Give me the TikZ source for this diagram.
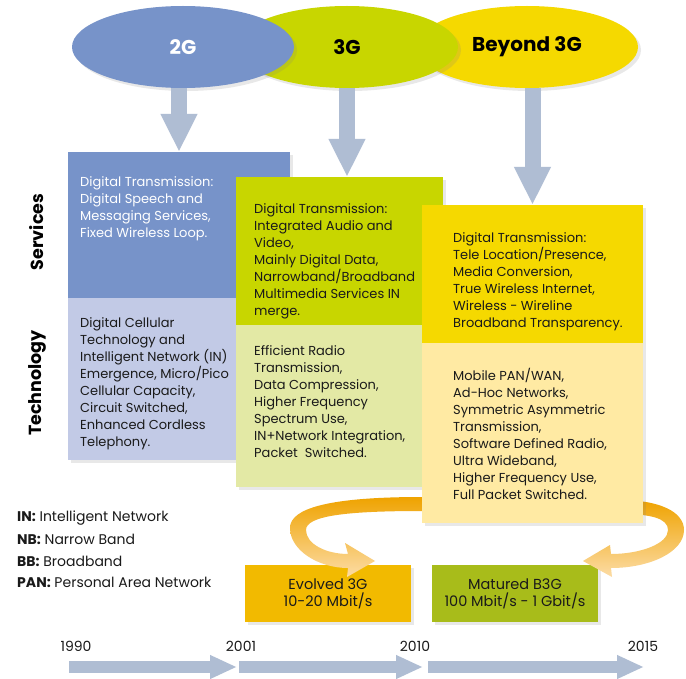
\documentclass[tikz,border=0pt]{standalone}
\usepackage{fontspec}
\setmainfont{Poppins}
\usetikzlibrary{shapes.geometric,arrows.meta,shadows,positioning}
\definecolor{blueA}{HTML}{7793C9}
\definecolor{blueB}{HTML}{C2CAE6}
\definecolor{greenA}{HTML}{C8D600}
\definecolor{greenB}{HTML}{E3E9A5}
\definecolor{yellowA}{HTML}{F5D900}
\definecolor{yellowB}{HTML}{FFEAA3}
\definecolor{greyarrow}{HTML}{AFBDD3}
\definecolor{evolved}{HTML}{F2BA00}
\definecolor{matured}{HTML}{A8BC1A}
\definecolor{ribbonD}{HTML}{EFA300}
\definecolor{ribbonL}{HTML}{FCDCA6}
\definecolor{ink}{HTML}{1A1A1A}
\tikzset{
  softshadow/.style={drop shadow={opacity=0.18, shadow xshift=3pt, shadow yshift=-3pt}},
  gen/.style={ellipse, minimum width=222pt, minimum height=82pt, inner sep=0pt,
    font=\fontsize{20}{20}\selectfont\bfseries, softshadow},
  block/.style={rectangle, anchor=north west, inner sep=0pt, outer sep=0pt, softshadow},
  blocktext/.style={anchor=north west, inner sep=0pt, align=left, text=ink,
    font=\fontsize{13}{17}\selectfont},
  sidelabel/.style={rotate=90, font=\fontsize{17.5}{17.5}\selectfont\bfseries},
  downarrow/.style={line width=16pt, greyarrow, -{Triangle[width=34pt,length=38pt]}},
  timearrow/.style={line width=12pt, greyarrow, -{Triangle[width=22pt,length=27pt]}},
  speedbox/.style={rectangle, minimum width=166pt, minimum height=57pt, align=center,
    text=ink, font=\fontsize{14.5}{17}\selectfont, softshadow},
  legend/.style={anchor=west, inner sep=0pt, text=ink, font=\fontsize{14}{15}\selectfont},
  year/.style={text=ink, font=\fontsize{14}{14}\selectfont},
  ribbon/.style={top color=ribbonD, middle color=ribbonL, bottom color=ribbonL}
}
\begin{document}
\begin{tikzpicture}[x=1pt, y=-1pt]
\useasboundingbox[fill=white] (0,0) rectangle (686,679);

\node[gen, fill=yellowA] (eB3G) at (527,47) {Beyond 3G};
\node[gen, fill=greenA] (e3G) at (347,47) {3G};
\node[gen, fill=blueA, text=white] (e2G) at (183,47) {2G};

\node[sidelabel] (lblServ) at (37,232) {Services};
\node[sidelabel] (lblTech) at (37,383) {Technology};

% 2G column
\node[block, fill=blueA, minimum width=222pt, minimum height=146pt] (s2G) at (68,152) {};
\node[block, fill=blueB, minimum width=222pt, minimum height=162pt] (t2G) at (68,298) {};
\node[blocktext, text=white] (s2Gtxt) at (80,176) {Digital Transmission:\\Digital Speech and\\Messaging Services,\\Fixed Wireless Loop.};
\node[blocktext] (t2Gtxt) at (80,317) {Digital Cellular\\Technology and\\Intelligent Network (IN)\\Emergence, Micro/Pico\\Cellular Capacity,\\Circuit Switched,\\Enhanced Cordless\\Telephony.};

% 3G column
\node[block, fill=greenA, minimum width=207pt, minimum height=148pt] (s3G) at (236,177) {};
\node[block, fill=greenB, minimum width=207pt, minimum height=162pt] (t3G) at (236,325) {};
\node[blocktext] (s3Gtxt) at (254,203) {Digital Transmission:\\Integrated Audio and\\Video,\\Mainly Digital Data,\\Narrowband/Broadband\\Multimedia Services IN\\merge.};
\node[blocktext] (t3Gtxt) at (254,345) {Efficient Radio\\Transmission,\\Data Compression,\\Higher Frequency\\Spectrum Use,\\IN+Network Integration,\\Packet\ \ Switched.};

\node[speedbox, fill=evolved] (evo) at (328,593.5) {Evolved 3G\\10-20 Mbit/s};
\node[speedbox, fill=matured] (mat) at (515,593.5) {Matured B3G\\100 Mbit/s - 1 Gbit/s};

\shade[ribbon] (422,497) .. controls (330,497) and (290,508) .. (290,528)
  .. controls (290,550) and (318,568) .. (348,568) -- (347,577) -- (375,561)
  -- (345,543) -- (348,554) .. controls (326,554) and (306,544) .. (306,530)
  .. controls (306,516) and (345,511) .. (422,511) -- cycle;
\shade[ribbon] (620,500) .. controls (660,500) and (684,512) .. (684,530)
  .. controls (684,552) and (650,568) .. (611,568) -- (612,577) -- (583,561)
  -- (610,545) -- (611,554) .. controls (640,554) and (668,544) .. (668,530)
  .. controls (668,518) and (650,514) .. (620,514) -- cycle;

% beyond 3G column
\node[block, fill=yellowA, minimum width=221pt, minimum height=138pt] (sB3G) at (422,205) {};
\node[block, fill=yellowB, minimum width=221pt, minimum height=180pt] (tB3G) at (422,343) {};
\node[blocktext] (sB3Gtxt) at (453,232) {Digital Transmission:\\Tele Location/Presence,\\Media Conversion,\\True Wireless Internet,\\Wireless - Wireline\\Broadband Transparency.};
\node[blocktext] (tB3Gtxt) at (453,368) {Mobile PAN/WAN,\\Ad-Hoc Networks,\\Symmetric Asymmetric\\Transmission,\\Software Defined Radio,\\Ultra Wideband,\\Higher Frequency Use,\\Full Packet Switched.};

\draw[downarrow] (s2G.north |- e2G.south) -- (s2G.north);
\draw[downarrow] (e3G.south) -- (e3G.south |- s3G.north);
\draw[downarrow] (sB3G.north |- eB3G.south) -- (sB3G.north);

\node[legend] (lgIN) at (17,518) {\textbf{IN:} Intelligent Network};
\node[legend] (lgNB) at ([shift={(0,21.5)}]lgIN.west) {\textbf{NB:} Narrow Band};
\node[legend] (lgBB) at ([shift={(0,21.5)}]lgNB.west) {\textbf{BB:} Broadband};
\node[legend] (lgPAN) at ([shift={(0,21.5)}]lgBB.west) {\textbf{PAN:} Personal Area Network};

\node[year] (y1990) at (76,646) {1990};
\node[year] (y2001) at (241,646) {2001};
\node[year] (y2010) at (415,646) {2010};
\node[year] (y2015) at (643,646) {2015};
\coordinate (t0) at (69,667);
\coordinate (t1) at (237,667);
\coordinate (t2) at (239,667);
\coordinate (t3) at (423,667);
\coordinate (t4) at (428,667);
\coordinate (t5) at (644,667);
\draw[timearrow] (t0) -- (t1);
\draw[timearrow] (t2) -- (t3);
\draw[timearrow] (t4) -- (t5);
\end{tikzpicture}
\end{document}
